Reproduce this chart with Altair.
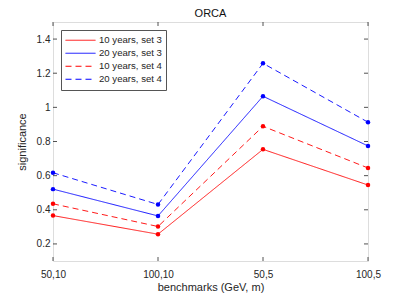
import altair as alt
import pandas as pd

benchmarks = ["50,10", "100,10", "50,5", "100,5"]
series = ["10 years, set 3", "20 years, set 3", "10 years, set 4", "20 years, set 4"]
y10_set3 = [0.366, 0.257, 0.754, 0.545]
y20_set3 = [0.521, 0.364, 1.065, 0.774]
y10_set4 = [0.435, 0.302, 0.889, 0.645]
y20_set4 = [0.617, 0.431, 1.258, 0.913]
colors = ["#ff0000", "#0000ff", "#ff0000", "#0000ff"]
dashes = [[1, 0], [1, 0], [6, 4], [6, 4]]
yticks = [0.2, 0.4, 0.6, 0.8, 1.0, 1.2, 1.4]

rows = []
for name, vals in zip(series, [y10_set3, y20_set3, y10_set4, y20_set4]):
    for b, v in zip(benchmarks, vals):
        rows.append({"benchmark": b, "series": name, "value": v})
df = pd.DataFrame(rows)

W, H = 315, 239
FONT = "Liberation Sans"
AX = "#262626"

xscale = alt.Scale(type="point", domain=benchmarks, padding=0)
yscale = alt.Scale(domain=[0.1, 1.5], nice=False, zero=False)
cscale = alt.Scale(domain=series, range=colors)
dscale = alt.Scale(domain=series, range=dashes)

xaxis = alt.Axis(title="benchmarks (GeV, m)", labelAngle=0, ticks=False,
                 domain=False, grid=False, labelPadding=8, titlePadding=2,
                 labelFontSize=10, titleFontSize=11, labelColor=AX,
                 titleColor=AX, labelFont=FONT, titleFont=FONT,
                 titleFontWeight="normal", labelOverlap=False)
yaxis = alt.Axis(title="significance", values=yticks, format="~g", ticks=False,
                 domain=False, grid=False, labelPadding=3, titlePadding=9,
                 labelFontSize=10, titleFontSize=11, labelColor=AX,
                 titleColor=AX, labelFont=FONT, titleFont=FONT,
                 titleFontWeight="normal", labelOverlap=False)

leg = alt.Legend(title=None, orient="none", legendX=8, legendY=8,
                 symbolType="stroke", symbolSize=900, clipHeight=12.5,
                 symbolStrokeWidth=1, labelFontSize=9.6,
                 labelFont=FONT, labelColor=AX, rowPadding=0,
                 fillColor="white", strokeColor="#555",
                 padding=4, labelOffset=3)

lines = alt.Chart(df).mark_line(
    strokeWidth=0.9, point=alt.OverlayMarkDef(size=20, filled=True, opacity=1)
).encode(
    x=alt.X("benchmark:N", scale=xscale, sort=benchmarks, axis=xaxis),
    y=alt.Y("value:Q", scale=yscale, axis=yaxis),
    color=alt.Color("series:N", scale=cscale, sort=series, legend=leg),
    strokeDash=alt.StrokeDash("series:N", scale=dscale, sort=series, legend=leg),
)

ydf = pd.DataFrame({"t": yticks})
xdf = pd.DataFrame({"b": benchmarks})
yt_left = alt.Chart(ydf).mark_rule(color=AX, strokeWidth=0.8).encode(
    y=alt.Y("t:Q", scale=yscale, axis=yaxis), x=alt.value(0), x2=alt.value(4))
yt_right = alt.Chart(ydf).mark_rule(color=AX, strokeWidth=0.8).encode(
    y=alt.Y("t:Q", scale=yscale, axis=yaxis), x=alt.value(W - 4), x2=alt.value(W))
xt_bot = alt.Chart(xdf).mark_rule(color=AX, strokeWidth=0.8).encode(
    x=alt.X("b:N", scale=xscale, sort=benchmarks, axis=xaxis), y=alt.value(H - 4), y2=alt.value(H))
xt_top = alt.Chart(xdf).mark_rule(color=AX, strokeWidth=0.8).encode(
    x=alt.X("b:N", scale=xscale, sort=benchmarks, axis=xaxis), y=alt.value(0), y2=alt.value(4))

chart = alt.layer(lines, yt_left, yt_right, xt_bot, xt_top).properties(
    width=W, height=H,
    title=alt.Title("ORCA", fontSize=11, fontWeight="normal", font=FONT, color="#111",
                    offset=3),
    autosize=alt.AutoSizeParams(type="none"),
    padding={"left": 45, "top": 14, "right": 31, "bottom": 35},
).configure_view(stroke="#555", strokeWidth=1).configure(background="white")

chart.save("out.html", embed_options={"renderer": "svg", "actions": False})
